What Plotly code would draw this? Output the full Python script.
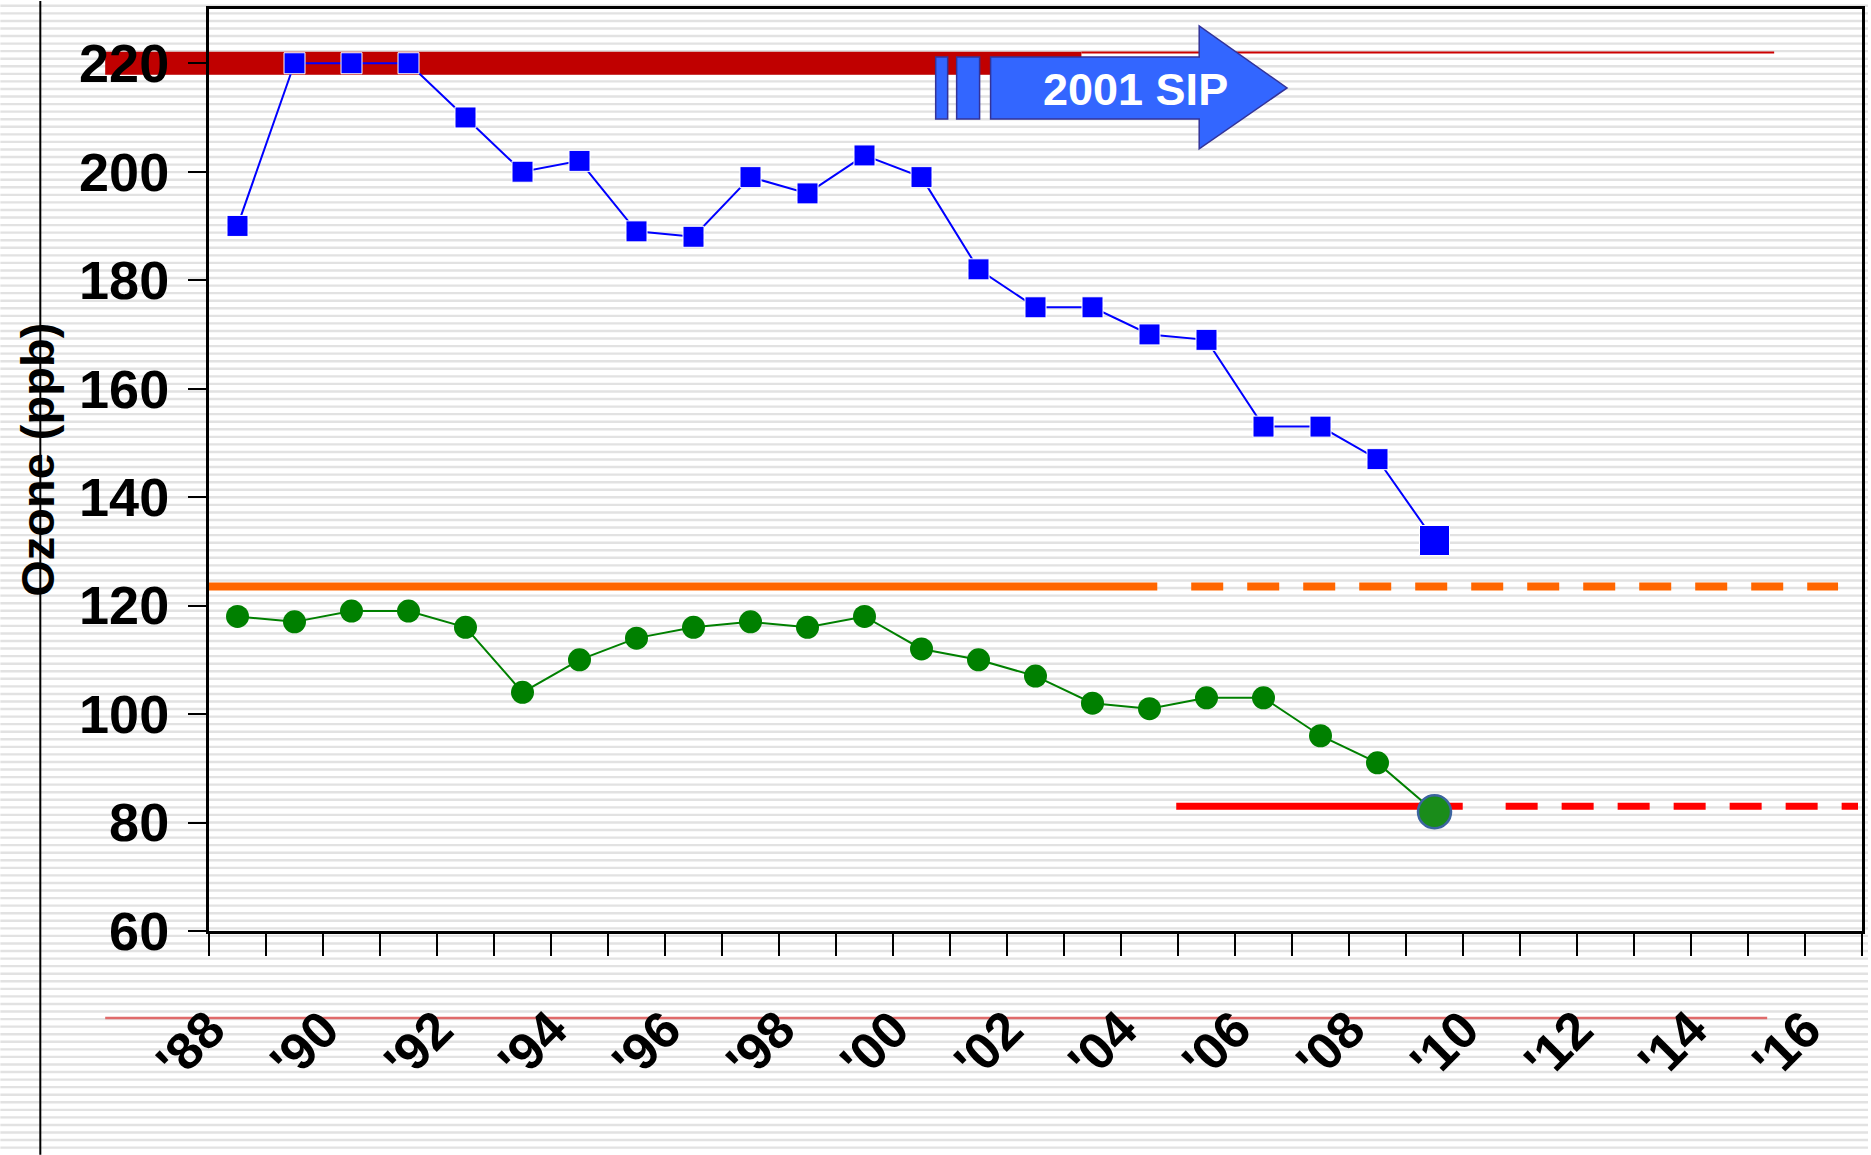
import plotly.graph_objects as go

# ---------------- data ----------------
years = ["1988", "1989", "1990", "1991", "1992", "1993", "1994", "1995", "1996", "1997",
         "1998", "1999", "2000", "2001", "2002", "2003", "2004", "2005", "2006", "2007",
         "2008", "2009", "2010", "2011", "2012", "2013", "2014", "2015", "2016"]
tick_labels = ["'88", "", "'90", "", "'92", "", "'94", "", "'96", "", "'98", "", "'00", "",
               "'02", "", "'04", "", "'06", "", "'08", "", "'10", "", "'12", "", "'14", "", "'16"]

data_years = years[:22]
peak_1hr = [190, 220, 220, 220, 210, 200, 202, 189, 188, 199, 196, 203, 199, 182, 175, 175,
            170, 169, 153, 153, 147, 132]
design_8hr = [118, 117, 119, 119, 116, 104, 110, 114, 116, 117, 116, 118, 112, 110, 107, 102,
              101, 103, 103, 96, 91, 82]

top_level = 220
top_thin_level = 222
one_hr_standard = 123.5
eight_hr_standard = 83
y_ticks = [60, 80, 100, 120, 140, 160, 180, 200, 220]
sip_label = "2001 SIP"

# ---------------- geometry helpers (pixel -> paper) ----------------
W, H = 1871, 1155
PL, PR, PT, PB = 209, 1865, 8, 931


def px(x):
    return (x - PL) / (PR - PL)


def py(y):
    return (PB - y) / (PB - PT)


FONT = "Liberation Sans, Arial, sans-serif"

fig = go.Figure()

n = len(data_years)
fig.add_trace(go.Scatter(
    x=data_years, y=peak_1hr, mode="lines+markers",
    line=dict(color="#0000FF", width=2),
    marker=dict(symbol="square", color="#0000FF", opacity=1,
                size=[21] * (n - 1) + [30]),
    cliponaxis=False, hoverinfo="x+y"))

fig.add_trace(go.Scatter(
    x=data_years, y=design_8hr, mode="lines+markers",
    line=dict(color="#008000", width=2),
    marker=dict(symbol="circle", opacity=1,
                color=["#008000"] * (n - 1) + ["#1A8C1A"],
                size=[23] * (n - 1) + [33],
                line=dict(color=["#008000"] * (n - 1) + ["#3C64A0"],
                          width=[0] * (n - 1) + [2.5])),
    cliponaxis=False, hoverinfo="x+y"))

shapes = []

# lined-paper background stripes
stripe_path = []
k = 0
while True:
    yy = 4.8 + 7.57 * k
    if yy > H:
        break
    stripe_path.append(f"M{px(0)},{py(yy)} L{px(W)},{py(yy)}")
    k += 1
shapes.append(dict(type="path", xref="paper", yref="paper", path=" ".join(stripe_path),
                   line=dict(color="#E2E2E2", width=2.4), layer="below"))

# left vertical rule
shapes.append(dict(type="line", xref="paper", yref="paper", x0=px(40), x1=px(40),
                   y0=py(0), y1=py(H), line=dict(color="black", width=2), layer="below"))

# bottom thin red rule
shapes.append(dict(type="line", xref="paper", yref="paper", x0=px(105), x1=px(1770),
                   y0=py(1018), y1=py(1018), line=dict(color="#E06A6A", width=2.5),
                   layer="below"))

# thick red band at 220 and thin continuation
shapes.append(dict(type="line", xref="paper", yref="y", x0=px(105), x1=px(1083),
                   y0=top_level, y1=top_level, line=dict(color="#C00000", width=23),
                   layer="below"))
shapes.append(dict(type="line", xref="paper", yref="y", x0=px(1083), x1=px(1777),
                   y0=top_thin_level, y1=top_thin_level, line=dict(color="#CC0000", width=2),
                   layer="below"))

# orange 1-hr standard
shapes.append(dict(type="line", xref="paper", yref="y", x0=px(209), x1=px(1159),
                   y0=one_hr_standard, y1=one_hr_standard,
                   line=dict(color="#FF6600", width=8), layer="below"))
shapes.append(dict(type="line", xref="paper", yref="y", x0=px(1193), x1=px(1841),
                   y0=one_hr_standard, y1=one_hr_standard,
                   line=dict(color="#FF6600", width=8, dash="32px,24px"), layer="below"))

# red 8-hr standard
shapes.append(dict(type="line", xref="paper", yref="y", x0=px(1178), x1=px(1465),
                   y0=eight_hr_standard, y1=eight_hr_standard,
                   line=dict(color="#FF0000", width=7), layer="below"))
shapes.append(dict(type="line", xref="paper", yref="y", x0=px(1508), x1=px(1861),
                   y0=eight_hr_standard, y1=eight_hr_standard,
                   line=dict(color="#FF0000", width=7, dash="32px,24px"), layer="below"))

# 2001 SIP arrow
AF, AL = "#3366FF", "#333399"
shapes.append(dict(type="rect", xref="paper", yref="paper", x0=px(937), x1=px(949),
                   y0=py(118), y1=py(56), fillcolor=AF, line=dict(color=AL, width=1.5),
                   layer="above"))
shapes.append(dict(type="rect", xref="paper", yref="paper", x0=px(958), x1=px(981),
                   y0=py(118), y1=py(56), fillcolor=AF, line=dict(color=AL, width=1.5),
                   layer="above"))
arrow_pts = [(992, 56), (1201, 56), (1201, 25), (1289, 87), (1201, 148), (1201, 118), (992, 118)]
arrow_path = "M" + " L".join(f"{px(a)},{py(b)}" for a, b in arrow_pts) + " Z"
shapes.append(dict(type="path", xref="paper", yref="paper", path=arrow_path,
                   fillcolor=AF, line=dict(color=AL, width=1.5), layer="above"))

annotations = [
    dict(x=px(1137), y=py(89), xref="paper", yref="paper", text="<b>" + sip_label + "</b>",
         showarrow=False, font=dict(family=FONT, size=45, color="white"),
         xanchor="center", yanchor="middle"),
    dict(x=px(37), y=py(459), xref="paper", yref="paper", text="<b>Ozone (ppb)</b>",
         showarrow=False, textangle=-90, font=dict(family=FONT, size=47, color="black"),
         xanchor="center", yanchor="middle"),
]

fig.update_layout(
    width=W, height=H,
    margin=dict(l=PL, r=W - PR, t=PT, b=H - PB, pad=0),
    paper_bgcolor="white", plot_bgcolor="rgba(0,0,0,0)",
    showlegend=False,
    shapes=shapes, annotations=annotations,
    xaxis=dict(type="category", categoryorder="array", categoryarray=years,
               range=[-0.5, len(years) - 0.5],
               tickmode="array", tickvals=years, ticktext=tick_labels,
               tickson="boundaries", ticks="outside", ticklen=22, tickwidth=1.5,
               tickcolor="black", showline=True, linewidth=3, linecolor="black", mirror=True,
               showgrid=False, zeroline=False, tickangle=-45,
               ticklabelstandoff=44, ticklabelshift=-28,
               tickfont=dict(family=FONT, size=52, color="black", weight="bold")),
    yaxis=dict(range=[60, 230], tickmode="array", tickvals=y_ticks,
               ticks="outside", ticklen=18, tickwidth=2, tickcolor="black",
               showline=True, linewidth=3, linecolor="black", mirror=True,
               showgrid=False, zeroline=False, ticklabelstandoff=8,
               tickfont=dict(family=FONT, size=54, color="black", weight="bold")),
)

fig.write_html("out.html", config={"displayModeBar": False},
               post_script="document.body.style.margin='0';document.body.style.padding='0';"
                           "document.body.style.overflow='hidden';")
